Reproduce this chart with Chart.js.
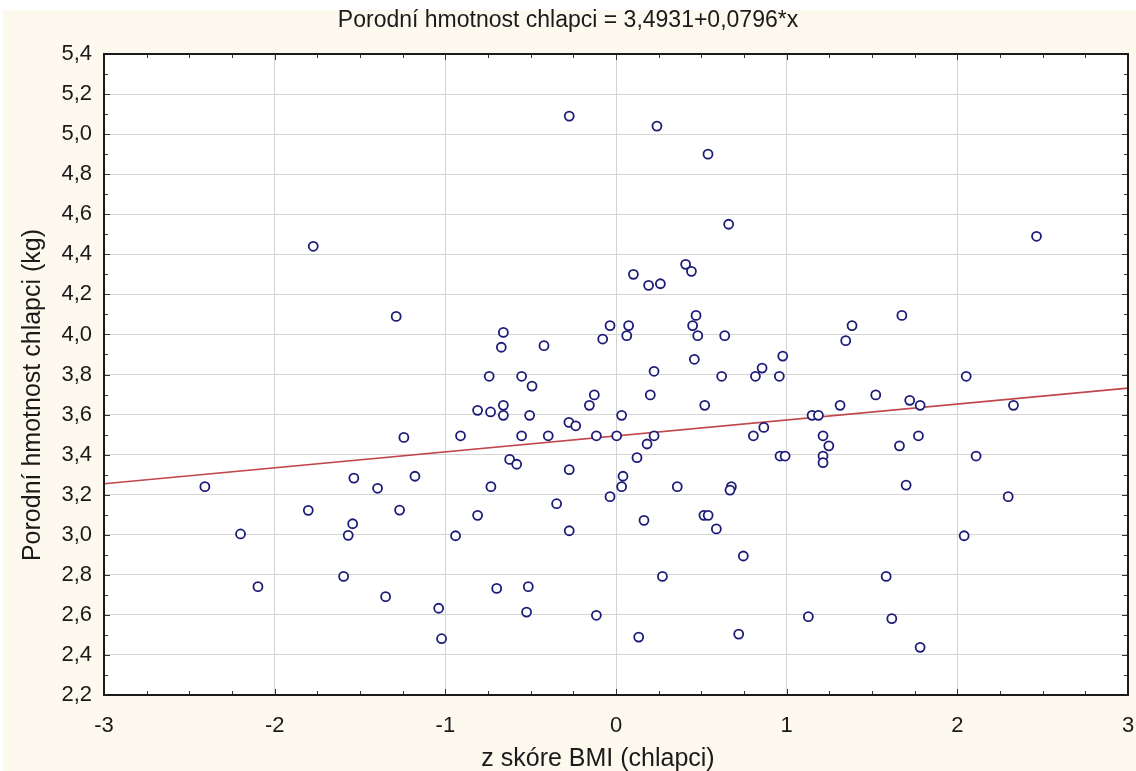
<!DOCTYPE html>
<html>
<head>
<meta charset="utf-8">
<title>Porodní hmotnost chlapci</title>
<script src="https://cdn.jsdelivr.net/npm/chart.js@4.4.1/dist/chart.umd.min.js"></script>
<style>
  html, body { margin: 0; padding: 0; background: #fff; }
  canvas { display: block; }
</style>
</head>
<body>
<canvas id="chart" width="1136" height="771"></canvas>
<script>
// values
const bmiZ = [
  -1.774, -1.288, -0.274, 0.240, 0.539, 0.660, 0.102, 0.408, 0.442, 0.191,
  0.260, 0.469, 0.449, 0.479, 0.637, 0.459, 0.074, 0.063, -0.035, -0.078,
  -0.660, -0.672, -0.422, -0.743, -0.553, -0.492, 0.223, 0.619, 0.817, 0.856,
  0.957, 0.977, 2.464, 1.675, 1.383, 1.346, 2.052, -2.409, -2.200, -2.098,
  -1.803, -1.596, -1.569, -1.543, -1.536, -1.397, -1.350, -1.268, -1.243, -1.178,
  -1.039, -1.022, -0.911, -0.940, -0.811, -0.735, -0.660, -0.660, -0.506, -0.553,
  -0.397, -0.276, -0.236, -0.127, -0.156, -0.115, 0.004, 0.033, 0.201, 0.223,
  0.182, 0.123, 0.041, 0.033, -0.035, -0.274, -0.623, -0.582, -0.733, -0.348,
  -0.811, -0.274, -0.699, -0.514, -0.524, -0.115, 0.133, 0.164, 0.272, 0.359,
  0.520, 0.515, 0.540, 0.588, 0.676, 0.668, 0.746, 0.719, 0.805, 0.866,
  0.961, 0.991, 1.522, 1.313, 1.149, 1.186, 1.721, 1.782, 2.329, 1.213,
  1.247, 1.213, 1.213, 1.661, 1.772, 2.110, 1.700, 2.298, 2.040, 1.583,
  1.127, 1.616, 1.782
];
const birthWeight = [
  4.44, 4.09, 5.09, 5.04, 4.90, 4.55, 4.30, 4.35, 4.315, 4.245,
  4.253, 4.095, 4.044, 3.994, 3.994, 3.876, 4.044, 3.994, 4.044, 3.977,
  4.01, 3.936, 3.944, 3.791, 3.791, 3.742, 3.816, 3.791, 3.791, 3.832,
  3.791, 3.892, 4.49, 4.095, 4.044, 3.969, 3.791, 3.24, 3.004, 2.741,
  3.122, 2.792, 2.997, 3.055, 3.283, 3.232, 2.691, 3.123, 3.486, 3.292,
  2.633, 2.481, 3.494, 2.995, 3.621, 3.613, 3.646, 3.596, 3.596, 3.494,
  3.494, 3.561, 3.544, 3.698, 3.646, 3.494, 3.494, 3.596, 3.698, 3.494,
  3.453, 3.385, 3.292, 3.240, 3.190, 3.325, 3.376, 3.352, 3.240, 3.155,
  3.097, 3.020, 2.732, 2.741, 2.614, 2.598, 2.489, 3.072, 2.792, 3.240,
  3.646, 3.097, 3.097, 3.029, 3.240, 3.223, 2.894, 2.504, 3.494, 3.536,
  3.393, 3.393, 3.698, 3.646, 3.596, 3.596, 3.671, 3.646, 3.646, 3.494,
  3.444, 3.393, 3.360, 3.444, 3.494, 3.393, 3.248, 3.190, 2.995, 2.792,
  2.591, 2.581, 2.438
];

// regression line y = 3.4931 + 0.0796*x at the axis ends
const fitX = [-3, 3];
const fitY = [3.2543, 3.7319];

const chartTitle = 'Porodní hmotnost chlapci = 3,4931+0,0796*x';
const xTitle = 'z skóre BMI (chlapci)';
const yTitle = 'Porodní hmotnost chlapci (kg)';

const FONT = '"Liberation Sans", Arial, sans-serif';

// cream page, white plot
const backdrop = {
  id: 'backdrop',
  beforeDraw(chart) {
    const { ctx, width, height, chartArea: a } = chart;
    ctx.save();
    ctx.fillStyle = '#ffffff';
    ctx.fillRect(0, 0, width, height);
    ctx.fillStyle = '#fdf9ee';
    ctx.fillRect(3, 10, width - 3, height - 10);
    ctx.fillStyle = '#ffffff';
    ctx.fillRect(a.left, a.top, a.right - a.left, a.bottom - a.top);
    ctx.restore();
  }
};

// box frame with inner tick marks on all four sides
const frame = {
  id: 'frame',
  afterDraw(chart) {
    const { ctx, chartArea: a, scales: { x, y } } = chart;
    ctx.save();
    ctx.strokeStyle = '#333';
    ctx.lineWidth = 1;
    ctx.beginPath();
    for (let i = 0; i <= 24; i++) {
      const v = x.min + i * 0.25;
      const px = Math.round(x.getPixelForValue(v)) + 0.5;
      const len = i % 4 === 0 ? 6 : 4;
      ctx.moveTo(px, a.bottom); ctx.lineTo(px, a.bottom - len);
      ctx.moveTo(px, a.top); ctx.lineTo(px, a.top + len);
    }
    for (let i = 0; i <= 32; i++) {
      const v = y.min + i * 0.1;
      const py = Math.round(y.getPixelForValue(v)) + 0.5;
      const len = i % 2 === 0 ? 6 : 4;
      ctx.moveTo(a.left, py); ctx.lineTo(a.left + len, py);
      ctx.moveTo(a.right, py); ctx.lineTo(a.right - len, py);
    }
    ctx.stroke();
    ctx.strokeStyle = '#1a1a1a';
    ctx.lineWidth = 2;
    ctx.strokeRect(a.left, a.top, a.right - a.left, a.bottom - a.top);
    ctx.restore();
  }
};

// title and axis captions
const captions = {
  id: 'captions',
  afterDraw(chart) {
    const { ctx, width, chartArea: a } = chart;
    ctx.save();
    ctx.fillStyle = '#1a1a1a';
    ctx.textAlign = 'center';
    ctx.textBaseline = 'middle';
    ctx.font = '23px ' + FONT;
    ctx.fillText(chartTitle, width / 2, 21);
    ctx.font = '25px ' + FONT;
    ctx.fillText(xTitle, 598, a.bottom + 64);
    ctx.translate(33, 395);
    ctx.rotate(-Math.PI / 2);
    ctx.fillText(yTitle, 0, 0);
    ctx.restore();
  }
};

new Chart(document.getElementById('chart'), {
  data: {
    datasets: [
      {
        type: 'scatter',
        data: bmiZ.map((v, i) => ({ x: v, y: birthWeight[i] })),
        pointStyle: 'circle',
        pointRadius: 4.5,
        pointBorderWidth: 1.8,
        pointBorderColor: '#1c1c78',
        pointBackgroundColor: '#ffffff',
        order: 1
      },
      {
        type: 'line',
        data: fitX.map((v, i) => ({ x: v, y: fitY[i] })),
        borderColor: '#c0464a',
        borderWidth: 1.6,
        pointRadius: 0,
        fill: false,
        order: 2
      }
    ]
  },
  options: {
    responsive: false,
    animation: false,
    layout: { padding: { left: 0, right: 8, top: 54, bottom: 0 } },
    plugins: {
      legend: { display: false },
      title: { display: false },
      tooltip: { enabled: false }
    },
    scales: {
      x: {
        type: 'linear',
        min: -3,
        max: 3,
        afterFit: s => { s.height = 76; s.paddingLeft = 0; s.paddingRight = 0; },
        ticks: {
          stepSize: 1,
          padding: 18,
          color: '#1a1a1a',
          font: { family: FONT, size: 22 },
          callback: v => String(v)
        },
        grid: { color: '#d4d4d4', lineWidth: 1, drawTicks: false },
        border: { display: false }
      },
      y: {
        type: 'linear',
        min: 2.2,
        max: 5.4,
        afterFit: s => { s.width = 104; s.paddingTop = 0; s.paddingBottom = 0; },
        ticks: {
          stepSize: 0.2,
          padding: 12,
          color: '#1a1a1a',
          font: { family: FONT, size: 22 },
          callback: v => v.toFixed(1).replace('.', ',')
        },
        grid: { color: '#d4d4d4', lineWidth: 1, drawTicks: false },
        border: { display: false }
      }
    }
  },
  plugins: [backdrop, frame, captions]
});
</script>
</body>
</html>
